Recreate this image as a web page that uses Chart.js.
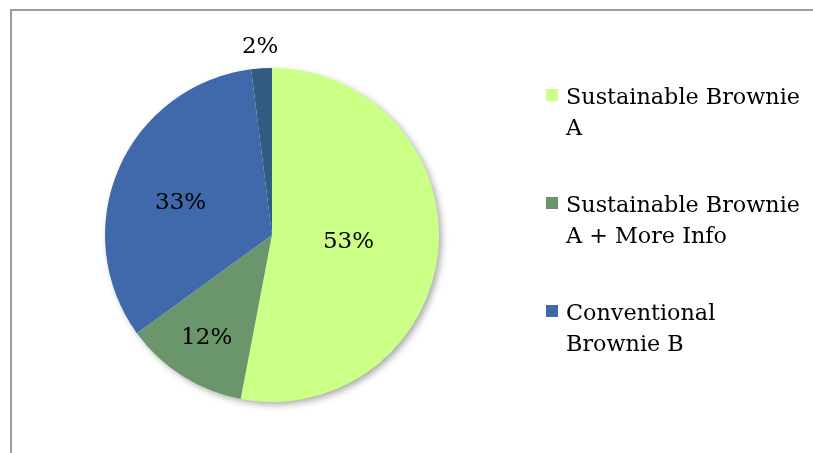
<!DOCTYPE html>
<html><head><meta charset="utf-8">
<script src="https://cdn.jsdelivr.net/npm/chart.js@4/dist/chart.umd.min.js"></script>
<style>
html,body{margin:0;padding:0;background:#fff;}
#wrap{position:relative;width:813px;height:453px;overflow:hidden;}
#frame{position:absolute;left:10px;top:9px;width:820px;height:460px;border-top:2px solid #9c9c9c;border-left:2px solid #9c9c9c;}
canvas{position:absolute;left:0;top:0;}
</style></head><body>
<div id="wrap"><div id="frame"></div><canvas id="c" width="813" height="453"></canvas></div>
<script>
// ---- data ----
const categories = ['Sustainable Brownie A', 'Sustainable Brownie A + More Info', 'Conventional Brownie B', ''];
const shares = [53, 12, 33, 2];
const legendLines = [['Sustainable Brownie', 'A'], ['Sustainable Brownie', 'A + More Info'], ['Conventional', 'Brownie B']];
const sliceColors = ['#CBFF85', '#6B966C', '#3F69AA', '#335D80'];

const FONT = '"DejaVu Serif", "Liberation Serif", serif';

const shadowPlugin = {
  id: 'pieShadow',
  beforeDatasetsDraw(chart) {
    const el = chart.getDatasetMeta(0).data[0];
    if (!el) return;
    const p = el.getProps(['x', 'y', 'outerRadius'], true);
    const ctx = chart.ctx;
    ctx.save();
    ctx.shadowColor = 'rgba(0,0,0,0.35)';
    ctx.shadowBlur = 7;
    ctx.shadowOffsetX = 3;
    ctx.shadowOffsetY = 3;
    ctx.fillStyle = '#ffffff';
    ctx.beginPath();
    ctx.arc(p.x, p.y, p.outerRadius - 0.5, 0, Math.PI * 2);
    ctx.fill();
    ctx.restore();
  }
};

const labelPlugin = {
  id: 'sliceLabels',
  afterDatasetsDraw(chart, args, opts) {
    const ctx = chart.ctx;
    const meta = chart.getDatasetMeta(0);
    const vals = chart.data.datasets[0].data;
    ctx.save();
    ctx.font = '23px ' + FONT;
    ctx.fillStyle = '#000';
    ctx.textAlign = 'center';
    ctx.textBaseline = 'middle';
    meta.data.forEach((el, i) => {
      const p = el.getProps(['x', 'y', 'startAngle', 'endAngle', 'outerRadius'], true);
      const mid = (p.startAngle + p.endAngle) / 2 + opts.turn[i];
      const r = p.outerRadius * opts.radial[i];
      ctx.fillText(vals[i] + '%', p.x + Math.cos(mid) * r, p.y + Math.sin(mid) * r);
    });
    ctx.restore();
  }
};

const legendPlugin = {
  id: 'wrapLegend',
  afterDraw(chart, args, opts) {
    const ctx = chart.ctx;
    const colors = chart.data.datasets[0].backgroundColor;
    ctx.save();
    ctx.font = '22.3px ' + FONT;
    ctx.fillStyle = '#000';
    ctx.textAlign = 'left';
    ctx.textBaseline = 'alphabetic';
    legendLines.forEach((lines, i) => {
      const base = opts.top + i * opts.itemGap;
      ctx.fillStyle = colors[i];
      ctx.fillRect(opts.left, base - 15, 12, 12);
      ctx.fillStyle = '#000';
      lines.forEach((t, j) => ctx.fillText(t, opts.left + 20, base + j * opts.lineHeight));
    });
    ctx.restore();
  }
};

new Chart(document.getElementById('c'), {
  type: 'pie',
  data: {
    labels: categories,
    datasets: [{
      data: shares,
      backgroundColor: sliceColors,
      borderWidth: 0,
      hoverOffset: 0
    }]
  },
  options: {
    responsive: false,
    animation: false,
    events: [],
    layout: { padding: { left: 105, right: 374, top: 68, bottom: 51 } },
    plugins: {
      legend: { display: false },
      tooltip: { enabled: false },
      sliceLabels: { radial: [0.46, 0.73, 0.58, 1.13], turn: [0, 0, -0.07, 0] },
      wrapLegend: { left: 546, top: 104, itemGap: 108, lineHeight: 31 }
    }
  },
  plugins: [shadowPlugin, labelPlugin, legendPlugin]
});
</script>
</body></html>
